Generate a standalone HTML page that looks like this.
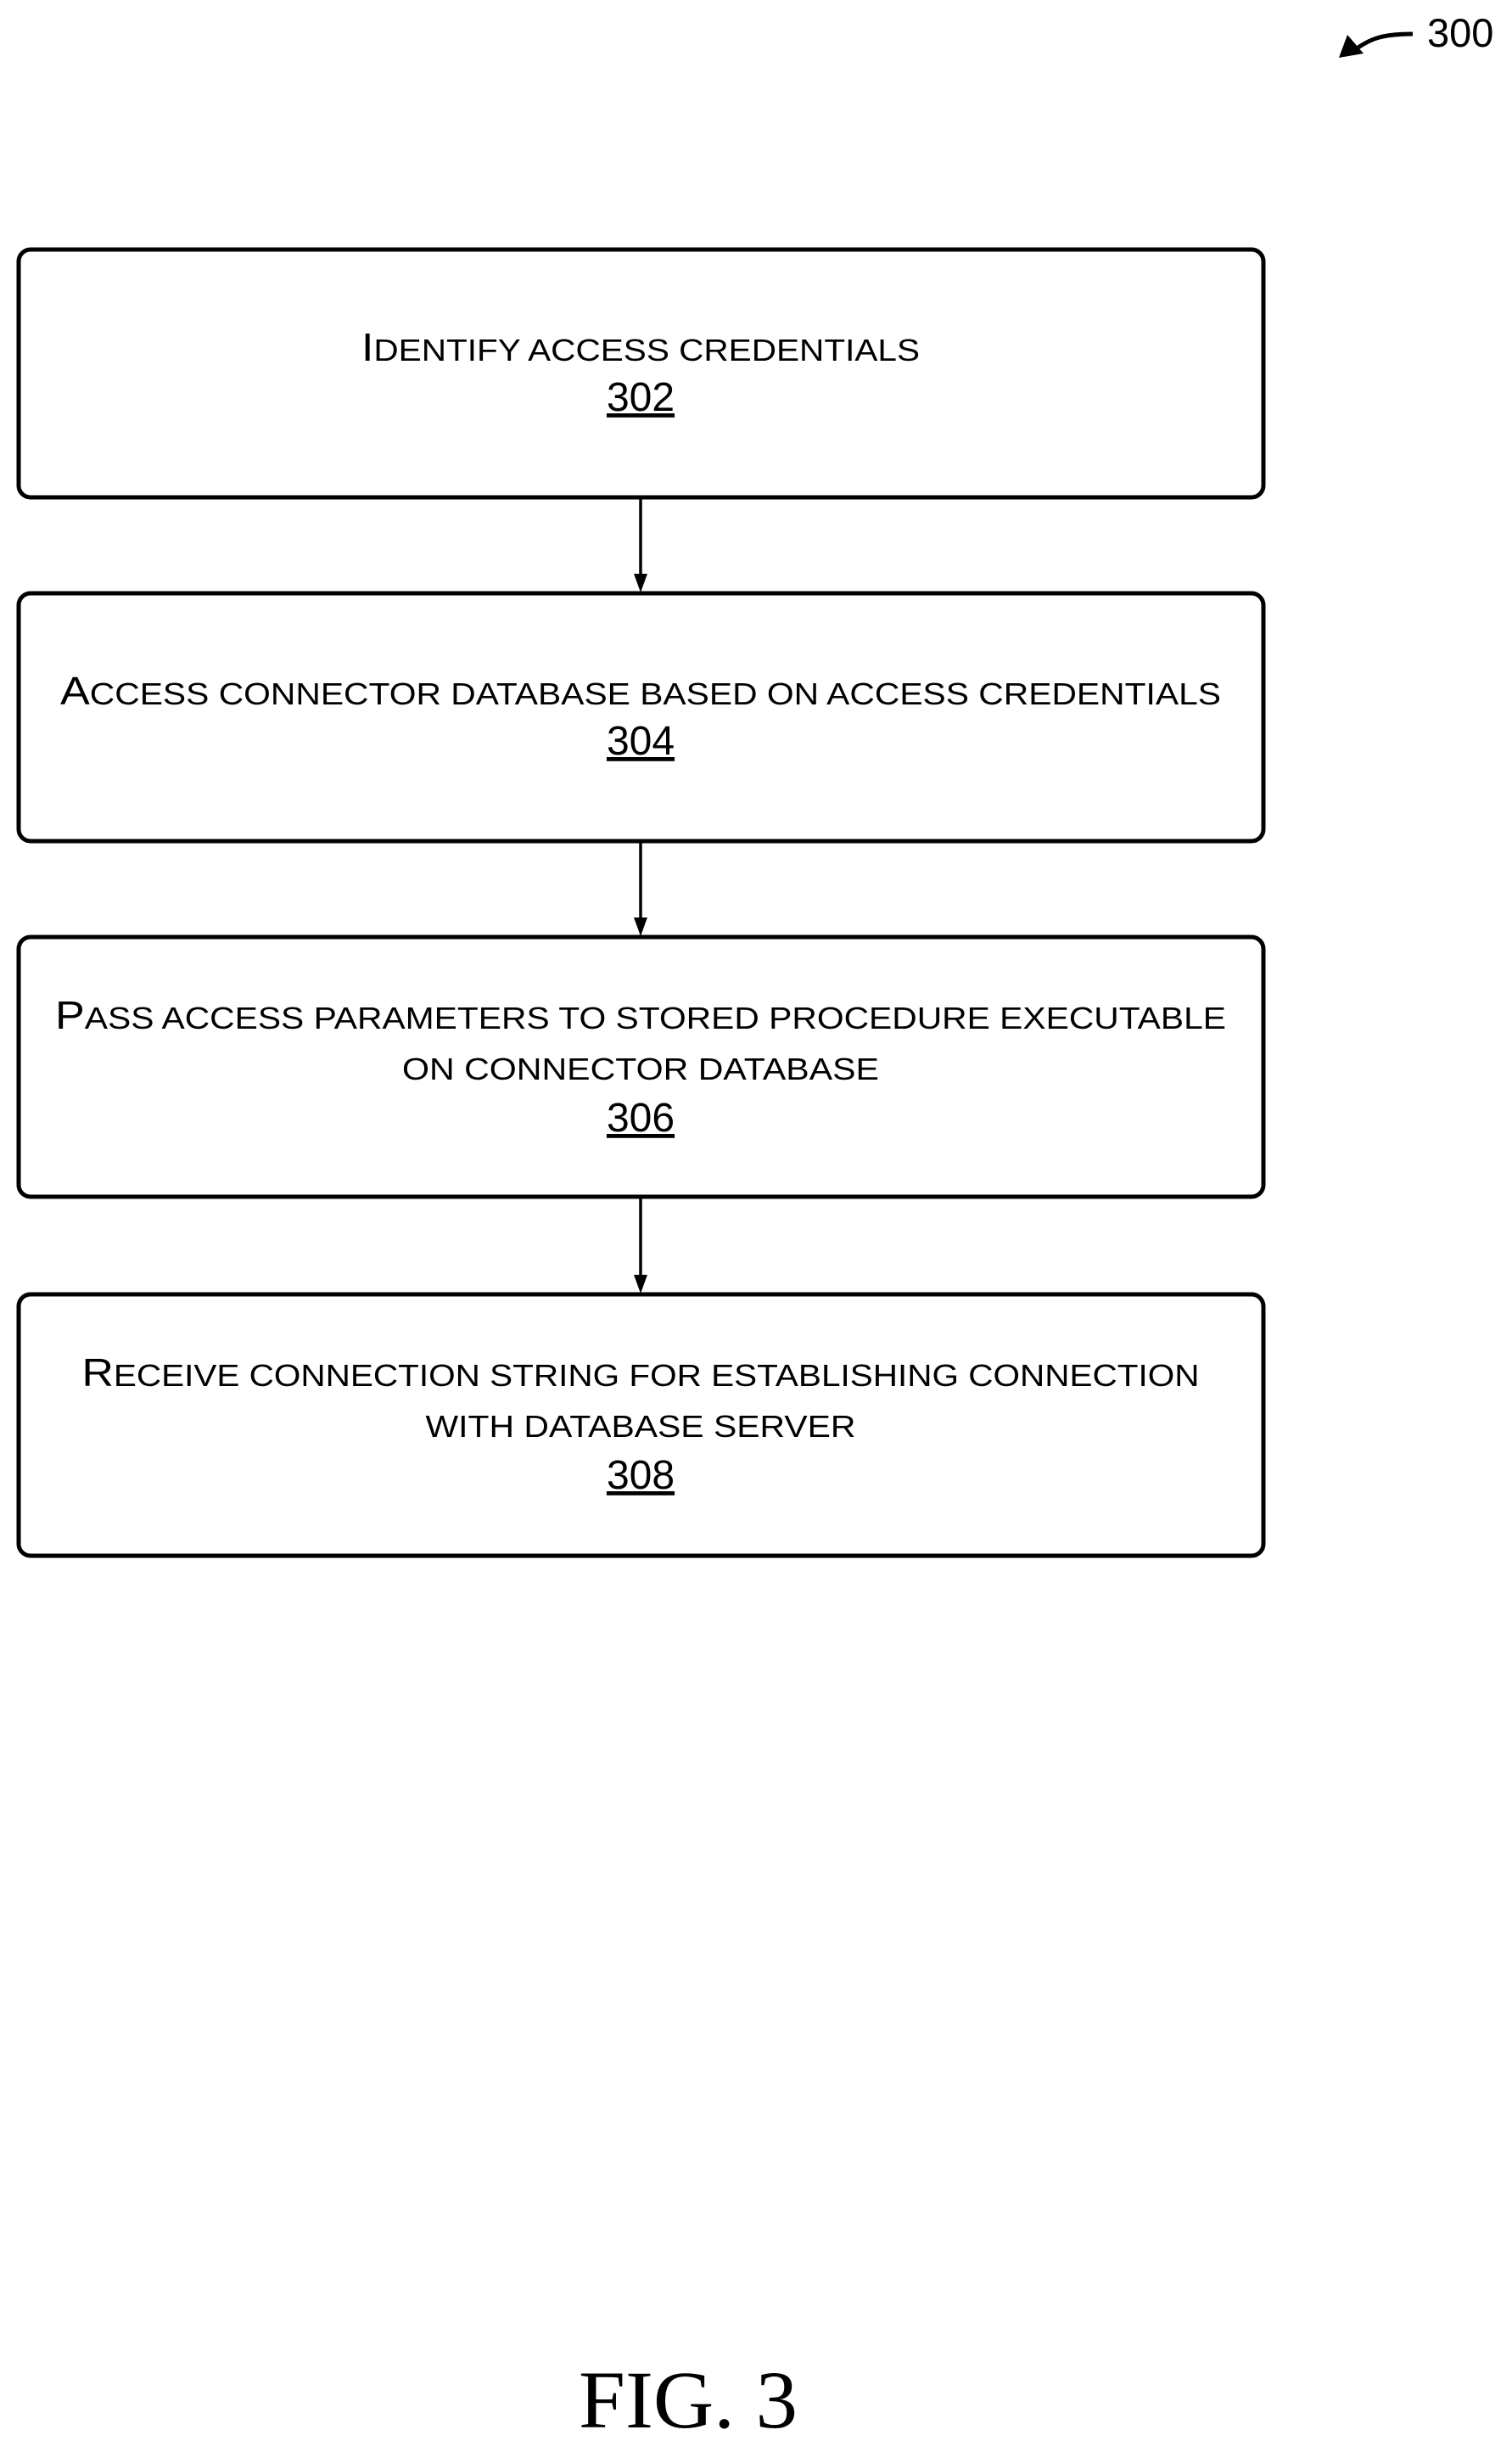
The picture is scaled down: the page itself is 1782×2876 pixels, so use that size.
<!DOCTYPE html>
<html><head><meta charset="utf-8"><style>
html,body{margin:0;padding:0;background:#fff;}
svg{display:block;}
text{font-family:"Liberation Sans",Arial,sans-serif;fill:#000;}
</style></head><body>
<svg width="1782" height="2876" viewBox="0 0 1782 2876" xmlns="http://www.w3.org/2000/svg">
<g fill="none" stroke="#000" stroke-width="5">
<rect x="22" y="294" width="1467" height="292" rx="14"/>
<rect x="22" y="699" width="1467" height="292" rx="14"/>
<rect x="22" y="1104" width="1467" height="306" rx="14"/>
<rect x="22" y="1525" width="1467" height="308" rx="14"/>
<line x1="755" y1="586" x2="755" y2="680" stroke-width="3.5"/>
<line x1="755" y1="991" x2="755" y2="1085" stroke-width="3.5"/>
<line x1="755" y1="1410" x2="755" y2="1506" stroke-width="3.5"/>
<path d="M1665 40 C1630 40 1615 45 1595 60" stroke-width="5"/>
</g>
<g fill="#000">
<polygon points="747,676 763,676 755,698"/>
<polygon points="747,1081 763,1081 755,1103"/>
<polygon points="747,1502 763,1502 755,1524"/>
<polygon points="1578,68 1588,41 1607,63"/>
</g>
<g text-anchor="middle">
<text x="755" y="425" font-size="46" textLength="658" lengthAdjust="spacingAndGlyphs">I<tspan font-size="36">DENTIFY ACCESS CREDENTIALS</tspan></text>
<text x="755" y="484" font-size="48" text-decoration="underline">302</text>

<text x="755" y="830" font-size="46" textLength="1368" lengthAdjust="spacingAndGlyphs">A<tspan font-size="36">CCESS CONNECTOR DATABASE BASED ON ACCESS CREDENTIALS</tspan></text>
<text x="755" y="889" font-size="48" text-decoration="underline">304</text>

<text x="755" y="1212" font-size="46" textLength="1380" lengthAdjust="spacingAndGlyphs">P<tspan font-size="36">ASS ACCESS PARAMETERS TO STORED PROCEDURE EXECUTABLE</tspan></text>
<text x="755" y="1272" font-size="36" textLength="562" lengthAdjust="spacingAndGlyphs">ON CONNECTOR DATABASE</text>
<text x="755" y="1333" font-size="48" text-decoration="underline">306</text>

<text x="755" y="1633" font-size="46" textLength="1317" lengthAdjust="spacingAndGlyphs">R<tspan font-size="36">ECEIVE CONNECTION STRING FOR ESTABLISHING CONNECTION</tspan></text>
<text x="755" y="1693" font-size="36" textLength="507" lengthAdjust="spacingAndGlyphs">WITH DATABASE SERVER</text>
<text x="755" y="1754" font-size="48" text-decoration="underline">308</text>

<text x="811" y="2860" font-size="96" style="font-family:'Liberation Serif',serif" textLength="258" lengthAdjust="spacingAndGlyphs">FIG. 3</text>
</g>
<text x="1682" y="55" font-size="47">300</text>
</svg>
</body></html>
